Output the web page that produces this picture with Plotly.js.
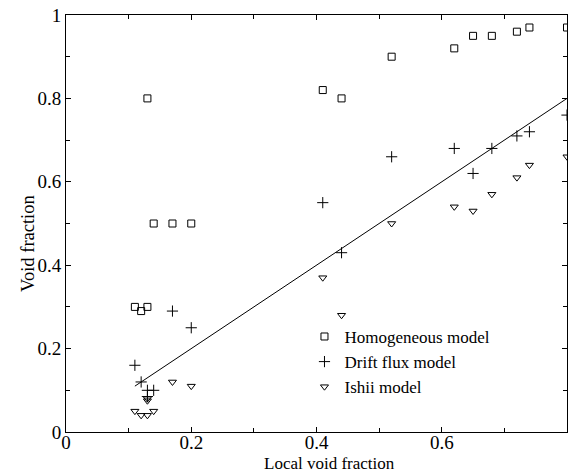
<!DOCTYPE html>
<html>
<head>
<meta charset="utf-8">
<script src="https://cdn.plot.ly/plotly-3.0.1.min.js"></script>
<style>html,body{margin:0;padding:0;background:#fff;}#chart{width:570px;height:474px;}</style>
</head>
<body>
<div id="chart"></div>
<script>
// Homogeneous model
const homX = [0.13, 0.14, 0.17, 0.20, 0.11, 0.12, 0.13, 0.41, 0.44, 0.52, 0.62, 0.65, 0.68, 0.72, 0.74, 0.80];
const homY = [0.80, 0.50, 0.50, 0.50, 0.30, 0.29, 0.30, 0.82, 0.80, 0.90, 0.92, 0.95, 0.95, 0.96, 0.97, 0.97];
// Drift flux model
const driftX = [0.11, 0.12, 0.13, 0.14, 0.13, 0.17, 0.20, 0.41, 0.44, 0.52, 0.62, 0.65, 0.68, 0.72, 0.74, 0.80];
const driftY = [0.16, 0.12, 0.10, 0.10, 0.085, 0.29, 0.25, 0.55, 0.43, 0.66, 0.68, 0.62, 0.68, 0.71, 0.72, 0.76];
// Ishii model
const ishiiX = [0.11, 0.12, 0.13, 0.14, 0.13, 0.13, 0.17, 0.20, 0.41, 0.44, 0.52, 0.62, 0.65, 0.68, 0.72, 0.74, 0.80];
const ishiiY = [0.05, 0.04, 0.04, 0.05, 0.08, 0.075, 0.12, 0.11, 0.37, 0.28, 0.50, 0.54, 0.53, 0.57, 0.61, 0.64, 0.66];
// Reference line (y = x)
const lineX = [0.11, 0.80];
const lineY = [0.11, 0.80];
// Axis titles
const xTitle = 'Local void fraction';
const yTitle = 'Void fraction';

const FONT = "Liberation Serif, Times New Roman, serif";
const traces = [
  {x: homX, y: homY, type: 'scatter', mode: 'markers', name: 'Homogeneous model',
   marker: {symbol: 'square-open', size: 7, color: '#000', line: {width: 1, color: '#000'}}},
  {x: driftX, y: driftY, type: 'scatter', mode: 'markers', name: 'Drift flux model',
   marker: {symbol: 'cross-thin-open', size: 8, color: '#000', line: {width: 1, color: '#000'}}},
  {x: ishiiX, y: ishiiY, type: 'scatter', mode: 'markers', name: 'Ishii model',
   marker: {symbol: 'triangle-down-open', size: 7, color: '#000', line: {width: 1, color: '#000'}}},
  {x: lineX, y: lineY, type: 'scatter', mode: 'lines', showlegend: false,
   line: {color: '#000', width: 1}}
];
const axisCommon = {
  showgrid: false, zeroline: false, showline: true, linecolor: '#000', linewidth: 1,
  mirror: 'ticks', ticks: 'inside', ticklen: 5, tickcolor: '#000', tickwidth: 1,
  tickfont: {family: FONT, size: 19, color: '#000'},
  minor: {ticks: 'inside', ticklen: 4, tickcolor: '#000', dtick: 0.1, showgrid: false}
};
const layout = {
  width: 570, height: 474,
  margin: {l: 66, r: 3, t: 15, b: 42},
  paper_bgcolor: '#fff', plot_bgcolor: '#fff',
  font: {family: FONT, color: '#000'},
  xaxis: Object.assign({}, axisCommon, {range: [0, 0.8], dtick: 0.2, tick0: 0, ticklabelstandoff: -7}),
  yaxis: Object.assign({}, axisCommon, {range: [0, 1], dtick: 0.2, tick0: 0}),
  annotations: [
    {text: xTitle, xref: 'paper', yref: 'paper', x: 0.525, y: -0.1, xanchor: 'center', yanchor: 'bottom',
     borderpad: 0, showarrow: false, font: {family: FONT, size: 17, color: '#000'}},
    {text: yTitle, xref: 'paper', yref: 'paper', x: -0.076, y: 0.453, xanchor: 'center', yanchor: 'middle',
     textangle: -90, showarrow: false, font: {family: FONT, size: 18.5, color: '#000'}}
  ],
  showlegend: true,
  legend: {x: 0.476, y: 0.168, xanchor: 'left', yanchor: 'middle', bgcolor: 'rgba(0,0,0,0)',
    font: {family: FONT, size: 17, color: '#000'}, tracegroupgap: 0, itemwidth: 30}
};
Plotly.newPlot('chart', traces, layout, {displayModeBar: false, staticPlot: true});
</script>
</body>
</html>
